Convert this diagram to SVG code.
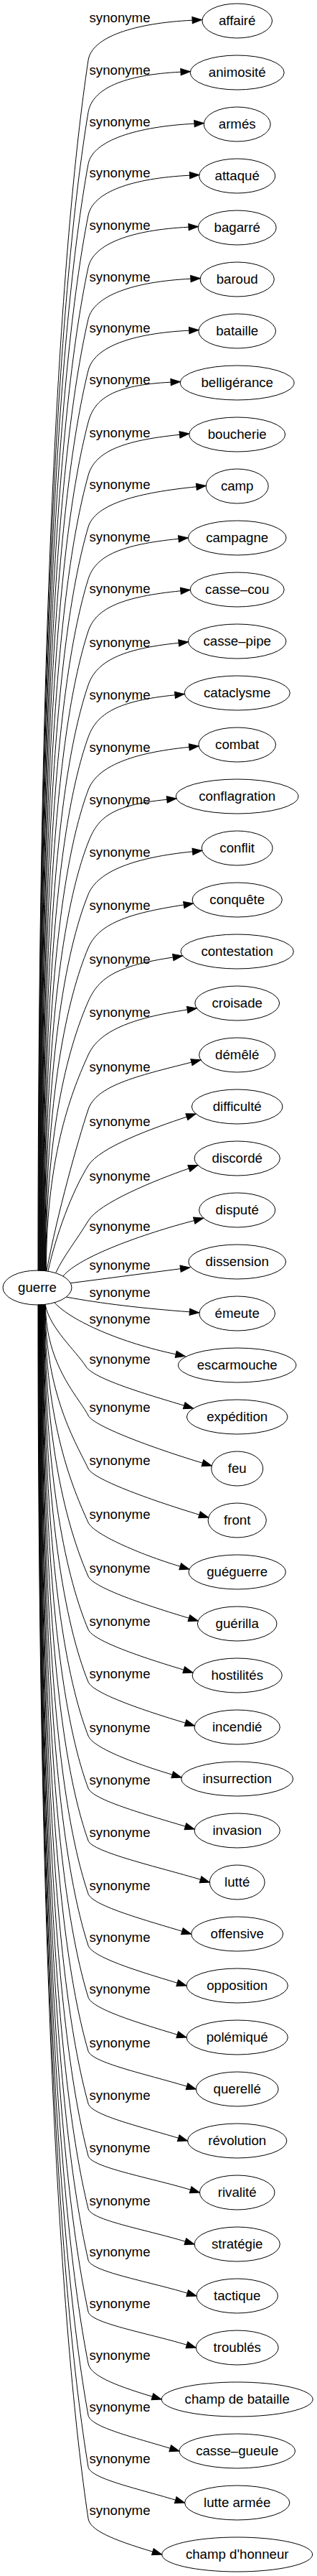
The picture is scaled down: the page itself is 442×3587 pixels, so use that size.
<svg xmlns="http://www.w3.org/2000/svg" width="442" height="3587" viewBox="0 0 442 3587">
<style>
text{font-family:"Liberation Sans",Arial,sans-serif;font-size:18.67px;fill:#000;text-anchor:middle}
.n ellipse{fill:none;stroke:#000;stroke-width:1}
.e path{fill:none;stroke:#000;stroke-width:1;marker-end:url(#ah)}
</style>
<defs>
<marker id="ah" markerUnits="userSpaceOnUse" markerWidth="16" markerHeight="12" refX="0" refY="4.67" orient="auto" overflow="visible"><path d="M0,0 L13.33,4.67 L0,9.33 Z" fill="#000" stroke="#000" stroke-width="1"/></marker>
</defs>
<g id="connectors">
<g class="e"><path d="M53,1769.5 C53,842.5 85.1,336.8 123,84 C128,51 188.1,32.2 268.1,28.2"/><text x="167" y="31">synonyme</text></g>
<g class="e"><path d="M53.6,1769.5 C53.6,882.4 82.8,398.5 123,156.5 C128.5,123.5 172,104.2 252,100.2"/><text x="167" y="103.5">synonyme</text></g>
<g class="e"><path d="M54.2,1769.5 C54.2,922 80.9,459.7 123,228.5 C129,195.5 191,176.2 271,172.2"/><text x="167" y="175.5">synonyme</text></g>
<g class="e"><path d="M54.8,1769.5 C54.8,961.3 79.6,520.4 123,300 C129.5,267 184.5,248.2 264.5,244.2"/><text x="167" y="247">synonyme</text></g>
<g class="e"><path d="M55.4,1769.5 C55.4,1001.2 78.4,582.1 123,372.5 C130,339.5 183,320.2 263,316.2"/><text x="167" y="319.5">synonyme</text></g>
<g class="e"><path d="M56,1769.5 C56,1040.8 77.5,643.3 123,444.5 C130.6,411.5 185.9,392.2 265.9,388.2"/><text x="167" y="391.5">synonyme</text></g>
<g class="e"><path d="M56.6,1769.5 C56.6,1080.1 76.9,704 123,516 C131.1,483 183.7,464.2 263.7,460.2"/><text x="167" y="463">synonyme</text></g>
<g class="e"><path d="M57.2,1769.5 C57.2,1119.7 76.8,765.2 123,588 C131.6,555 158.1,536.2 238.1,532.2"/><text x="167" y="535">synonyme</text></g>
<g class="e"><path d="M57.8,1769.5 C57.8,1160.4 77,828.1 123,662 C132.1,629 170.9,613.3 250.5,605.3"/><text x="167" y="609">synonyme</text></g>
<g class="e"><path d="M58.4,1769.5 C58.4,1200 77.5,889.3 123,734 C132.7,701 194.3,685.8 273.9,677.8"/><text x="167" y="681">synonyme</text></g>
<g class="e"><path d="M59,1769.5 C59,1239.9 78.3,951 123,806.5 C133.2,773.5 169.4,758.3 249,750.3"/><text x="167" y="753.5">synonyme</text></g>
<g class="e"><path d="M59.6,1769.5 C59.6,1279.7 79.6,1012.6 123,879 C133.7,846 172.3,830.8 251.9,822.8"/><text x="167" y="826">synonyme</text></g>
<g class="e"><path d="M60.2,1770 C60.2,1321 81.3,1076.3 123,954 C134.3,921 169.6,903.3 249.2,895.3"/><text x="167" y="901">synonyme</text></g>
<g class="e"><path d="M60.8,1770 C60.8,1360.9 83.2,1138 123,1026.5 C134.8,993.5 164.4,975.8 244,967.8"/><text x="167" y="973.5">synonyme</text></g>
<g class="e"><path d="M61.4,1770 C61.4,1401.5 85.5,1200.5 123,1100 C135.3,1067 184.2,1048.3 263.8,1040.3"/><text x="167" y="1047">synonyme</text></g>
<g class="e"><path d="M62,1770 C62,1441.7 88.1,1262.6 123,1173 C135.8,1140 153.2,1121.3 232.8,1113.3"/><text x="167" y="1120">synonyme</text></g>
<g class="e"><path d="M62.6,1770 C62.6,1481.5 91.1,1324.2 123,1245.5 C136.4,1212.5 188.9,1193.8 268.5,1185.8"/><text x="167" y="1192.5">synonyme</text></g>
<g class="e"><path d="M63.2,1770 C63.2,1522.3 94.6,1387.4 123,1320 C136.9,1287 177.2,1271.9 256.3,1260"/><text x="167" y="1267">synonyme</text></g>
<g class="e"><path d="M63.8,1770 C63.8,1563.5 98.3,1450.8 123,1394.5 C137.5,1361.5 162.2,1344.9 241.3,1333"/><text x="167" y="1341.5">synonyme</text></g>
<g class="e"><path d="M64.4,1770 C64.4,1604.5 102.5,1514.2 123,1469 C138,1436 182.1,1417.9 261.2,1406"/><text x="167" y="1416">synonyme</text></g>
<g class="e"><path d="M65,1769.5 C80,1690 108,1590 123,1545 C134,1512 189.4,1498.6 267,1479.2"/><text x="167" y="1492">synonyme</text></g>
<g class="e"><path d="M67,1770 C78,1720 100,1660 123,1623 C139,1597.5 212.9,1570.9 260.4,1555.2"/><text x="167" y="1568">synonyme</text></g>
<g class="e"><path d="M78,1772 C88,1750 108,1725 123,1700 C138,1675 216.2,1643.5 263.4,1627"/><text x="167" y="1644">synonyme</text></g>
<g class="e"><path d="M88,1777 C110,1750 200,1718 270.7,1699.6"/><text x="167" y="1714">synonyme</text></g>
<g class="e"><path d="M98.3,1786.7 L251.6,1766.7"/><text x="167" y="1768">synonyme</text></g>
<g class="e"><path d="M92.4,1806 C140,1815 200,1822 264.4,1826.8"/><text x="167" y="1806">synonyme</text></g>
<g class="e"><path d="M76,1813.8 C100,1840 170,1870 245.2,1885.8"/><text x="167" y="1843">synonyme</text></g>
<g class="e"><path d="M63.3,1817.5 C70,1850 105,1880 120,1903 C131,1919.8 199.2,1940 256.7,1957.2"/><text x="167" y="1899">synonyme</text></g>
<g class="e"><path d="M63.5,1816.5 C63.5,1901.5 111.7,1947.8 123,1971 C130.8,1987 224.9,2020 282.4,2037.2"/><text x="167" y="1966">synonyme</text></g>
<g class="e"><path d="M63,1816.5 C63,1942.2 106.9,2010.7 123,2045 C130.5,2061 220.4,2092 277.9,2109.2"/><text x="167" y="2040">synonyme</text></g>
<g class="e"><path d="M62.5,1816.5 C62.5,1983.4 102.4,2074.5 123,2120 C130.2,2136 193.7,2164 251.2,2181.2"/><text x="167" y="2115">synonyme</text></g>
<g class="e"><path d="M62,1816.5 C62,2024.7 98.2,2138.2 123,2195 C130,2211 205.9,2236 263.4,2253.2"/><text x="167" y="2190">synonyme</text></g>
<g class="e"><path d="M61.5,1816.5 C61.5,2065.4 94.4,2201.1 123,2269 C129.7,2285 198.7,2308 256.2,2325.2"/><text x="167" y="2264">synonyme</text></g>
<g class="e"><path d="M61,1816.5 C61,2105.5 91.1,2263.2 123,2342 C129.5,2358 201,2382 258.5,2399.2"/><text x="167" y="2337">synonyme</text></g>
<g class="e"><path d="M60.5,1816.5 C60.5,2146.8 88,2326.9 123,2417 C129.2,2433 182.7,2454 240.2,2471.2"/><text x="167" y="2412">synonyme</text></g>
<g class="e"><path d="M60,1816.5 C60,2186.9 85.4,2389 123,2490 C129,2506 200.9,2526 258.4,2543.2"/><text x="167" y="2485">synonyme</text></g>
<g class="e"><path d="M59.5,1816.5 C59.5,2227.1 83.1,2451 123,2563 C128.7,2579 222,2600 279.5,2617.2"/><text x="167" y="2558">synonyme</text></g>
<g class="e"><path d="M59,1816.5 C59,2267.8 81.1,2513.9 123,2637 C128.4,2653 196.4,2672 253.9,2689.2"/><text x="167" y="2632">synonyme</text></g>
<g class="e"><path d="M58.5,1816.5 C58.5,2307.4 79.6,2575.1 123,2709 C128.2,2725 189.7,2744 247.2,2761.2"/><text x="167" y="2704">synonyme</text></g>
<g class="e"><path d="M58,1816.5 C58,2347 78.4,2636.3 123,2781 C127.9,2797 189.7,2816 247.2,2833.2"/><text x="167" y="2776">synonyme</text></g>
<g class="e"><path d="M57.5,1816.5 C57.5,2388.2 77.5,2700.1 123,2856 C127.7,2872 203,2888 260.5,2905.2"/><text x="167" y="2851">synonyme</text></g>
<g class="e"><path d="M57,1816.5 C57,2428.4 76.9,2762.1 123,2929 C127.4,2945 191.2,2960 248.7,2977.2"/><text x="167" y="2924">synonyme</text></g>
<g class="e"><path d="M56.5,1816.5 C56.5,2468.5 76.8,2824.2 123,3002 C127.2,3018 208.1,3032 265.6,3049.2"/><text x="167" y="2997">synonyme</text></g>
<g class="e"><path d="M56,1816.5 C56,2509 76.9,2886.6 123,3075.5 C126.9,3091.5 200.8,3104 258.3,3121.2"/><text x="167" y="3070.5">synonyme</text></g>
<g class="e"><path d="M55.5,1816.5 C55.5,2548.3 77.5,2947.4 123,3147 C126.6,3163 203.7,3176 261.2,3193.2"/><text x="167" y="3142">synonyme</text></g>
<g class="e"><path d="M55,1816.5 C55,2587.9 78.4,3008.6 123,3219 C126.4,3235 202.9,3248 260.4,3265.2"/><text x="167" y="3214">synonyme</text></g>
<g class="e"><path d="M54.5,1816.5 C54.5,2627.5 79.6,3069.8 123,3291 C126.1,3307 154.9,3320 212.4,3337.2"/><text x="167" y="3286">synonyme</text></g>
<g class="e"><path d="M54,1816.5 C54,2667.1 81,3131 123,3363 C125.9,3379 179.7,3392 237.2,3409.2"/><text x="167" y="3358">synonyme</text></g>
<g class="e"><path d="M53.5,1816.5 C53.5,2706.7 82.9,3192.2 123,3435 C125.6,3451 187.2,3464 244.7,3481.2"/><text x="167" y="3430">synonyme</text></g>
<g class="e"><path d="M53,1816.5 C53,2746.3 85.2,3253.4 123,3507 C125.4,3523 155.4,3536 212.9,3553.2"/><text x="167" y="3502">synonyme</text></g>
</g>
<g id="node-guerre" class="n"><ellipse cx="52" cy="1793" rx="48" ry="24"/><text x="52" y="1798.6">guerre</text></g>
<g id="node-0" class="n"><ellipse cx="330.7" cy="29" rx="48.8" ry="24"/><text x="330.7" y="34.6">affairé</text></g>
<g id="node-1" class="n"><ellipse cx="330.7" cy="101" rx="65.5" ry="24"/><text x="330.7" y="106.6">animosité</text></g>
<g id="node-2" class="n"><ellipse cx="330.7" cy="173" rx="46.45" ry="24"/><text x="330.7" y="178.6">armés</text></g>
<g id="node-3" class="n"><ellipse cx="330.7" cy="245" rx="53.05" ry="24"/><text x="330.7" y="250.6">attaqué</text></g>
<g id="node-4" class="n"><ellipse cx="330.7" cy="317" rx="54.5" ry="24"/><text x="330.7" y="322.6">bagarré</text></g>
<g id="node-5" class="n"><ellipse cx="330.7" cy="389" rx="51.6" ry="24"/><text x="330.7" y="394.6">baroud</text></g>
<g id="node-6" class="n"><ellipse cx="330.7" cy="461" rx="53.8" ry="24"/><text x="330.7" y="466.6">bataille</text></g>
<g id="node-7" class="n"><ellipse cx="330.7" cy="533" rx="79.4" ry="24"/><text x="330.7" y="538.6">belligérance</text></g>
<g id="node-8" class="n"><ellipse cx="330.7" cy="605" rx="67" ry="24"/><text x="330.7" y="610.6">boucherie</text></g>
<g id="node-9" class="n"><ellipse cx="330.7" cy="677" rx="43.5" ry="24"/><text x="330.7" y="682.6">camp</text></g>
<g id="node-10" class="n"><ellipse cx="330.7" cy="749" rx="68.4" ry="24"/><text x="330.7" y="754.6">campagne</text></g>
<g id="node-11" class="n"><ellipse cx="330.7" cy="821" rx="65.5" ry="24"/><text x="330.7" y="826.6">casse–cou</text></g>
<g id="node-12" class="n"><ellipse cx="330.7" cy="893" rx="68.3" ry="24"/><text x="330.7" y="898.6">casse–pipe</text></g>
<g id="node-13" class="n"><ellipse cx="330.7" cy="965" rx="73.6" ry="24"/><text x="330.7" y="970.6">cataclysme</text></g>
<g id="node-14" class="n"><ellipse cx="330.7" cy="1037" rx="53.8" ry="24"/><text x="330.7" y="1042.6">combat</text></g>
<g id="node-15" class="n"><ellipse cx="330.7" cy="1109" rx="85.3" ry="24"/><text x="330.7" y="1114.6">conflagration</text></g>
<g id="node-16" class="n"><ellipse cx="330.7" cy="1181" rx="49.4" ry="24"/><text x="330.7" y="1186.6">conflit</text></g>
<g id="node-17" class="n"><ellipse cx="330.7" cy="1253" rx="62.6" ry="24"/><text x="330.7" y="1258.6">conquête</text></g>
<g id="node-18" class="n"><ellipse cx="330.7" cy="1325" rx="78.7" ry="24"/><text x="330.7" y="1330.6">contestation</text></g>
<g id="node-19" class="n"><ellipse cx="330.7" cy="1397" rx="58.9" ry="24"/><text x="330.7" y="1402.6">croisade</text></g>
<g id="node-20" class="n"><ellipse cx="330.7" cy="1469" rx="53.05" ry="24"/><text x="330.7" y="1474.6">démêlé</text></g>
<g id="node-21" class="n"><ellipse cx="330.7" cy="1541" rx="63.3" ry="24"/><text x="330.7" y="1546.6">difficulté</text></g>
<g id="node-22" class="n"><ellipse cx="330.7" cy="1613" rx="59.65" ry="24"/><text x="330.7" y="1618.6">discordé</text></g>
<g id="node-23" class="n"><ellipse cx="330.7" cy="1685" rx="53.07" ry="24"/><text x="330.7" y="1690.6">disputé</text></g>
<g id="node-24" class="n"><ellipse cx="330.7" cy="1757" rx="67.9" ry="24"/><text x="330.7" y="1762.6">dissension</text></g>
<g id="node-25" class="n"><ellipse cx="330.7" cy="1829" rx="52.8" ry="24"/><text x="330.7" y="1834.6">émeute</text></g>
<g id="node-26" class="n"><ellipse cx="330.7" cy="1901" rx="82.2" ry="24"/><text x="330.7" y="1906.6">escarmouche</text></g>
<g id="node-27" class="n"><ellipse cx="330.7" cy="1973" rx="70.3" ry="24"/><text x="330.7" y="1978.6">expédition</text></g>
<g id="node-28" class="n"><ellipse cx="330.7" cy="2045" rx="36" ry="24"/><text x="330.7" y="2050.6">feu</text></g>
<g id="node-29" class="n"><ellipse cx="330.7" cy="2117" rx="40.6" ry="24"/><text x="330.7" y="2122.6">front</text></g>
<g id="node-30" class="n"><ellipse cx="330.7" cy="2189" rx="67.7" ry="24"/><text x="330.7" y="2194.6">guéguerre</text></g>
<g id="node-31" class="n"><ellipse cx="330.7" cy="2261" rx="55.3" ry="24"/><text x="330.7" y="2266.6">guérilla</text></g>
<g id="node-32" class="n"><ellipse cx="330.7" cy="2333" rx="62.6" ry="24"/><text x="330.7" y="2338.6">hostilités</text></g>
<g id="node-33" class="n"><ellipse cx="330.7" cy="2405" rx="59.65" ry="24"/><text x="330.7" y="2410.6">incendié</text></g>
<g id="node-34" class="n"><ellipse cx="330.7" cy="2477" rx="78" ry="24"/><text x="330.7" y="2482.6">insurrection</text></g>
<g id="node-35" class="n"><ellipse cx="330.7" cy="2549" rx="59.66" ry="24"/><text x="330.7" y="2554.6">invasion</text></g>
<g id="node-36" class="n"><ellipse cx="330.7" cy="2621" rx="38.4" ry="24"/><text x="330.7" y="2626.6">lutté</text></g>
<g id="node-37" class="n"><ellipse cx="330.7" cy="2693" rx="64" ry="24"/><text x="330.7" y="2698.6">offensive</text></g>
<g id="node-38" class="n"><ellipse cx="330.7" cy="2765" rx="70.7" ry="24"/><text x="330.7" y="2770.6">opposition</text></g>
<g id="node-39" class="n"><ellipse cx="330.7" cy="2837" rx="70.7" ry="24"/><text x="330.7" y="2842.6">polémiqué</text></g>
<g id="node-40" class="n"><ellipse cx="330.7" cy="2909" rx="57.45" ry="24"/><text x="330.7" y="2914.6">querellé</text></g>
<g id="node-41" class="n"><ellipse cx="330.7" cy="2981" rx="69.2" ry="24"/><text x="330.7" y="2986.6">révolution</text></g>
<g id="node-42" class="n"><ellipse cx="330.7" cy="3053" rx="52.3" ry="24"/><text x="330.7" y="3058.6">rivalité</text></g>
<g id="node-43" class="n"><ellipse cx="330.7" cy="3125" rx="59.65" ry="24"/><text x="330.7" y="3130.6">stratégie</text></g>
<g id="node-44" class="n"><ellipse cx="330.7" cy="3197" rx="56.7" ry="24"/><text x="330.7" y="3202.6">tactique</text></g>
<g id="node-45" class="n"><ellipse cx="330.7" cy="3269" rx="57.46" ry="24"/><text x="330.7" y="3274.6">troublés</text></g>
<g id="node-46" class="n"><ellipse cx="330.7" cy="3341" rx="105.5" ry="24"/><text x="330.7" y="3346.6">champ de bataille</text></g>
<g id="node-47" class="n"><ellipse cx="330.7" cy="3413" rx="80.7" ry="24"/><text x="330.7" y="3418.6">casse–gueule</text></g>
<g id="node-48" class="n"><ellipse cx="330.7" cy="3485" rx="73.2" ry="24"/><text x="330.7" y="3490.6">lutte armée</text></g>
<g id="node-49" class="n"><ellipse cx="330.7" cy="3557" rx="105" ry="24"/><text x="330.7" y="3562.6">champ d'honneur</text></g>
</svg>
